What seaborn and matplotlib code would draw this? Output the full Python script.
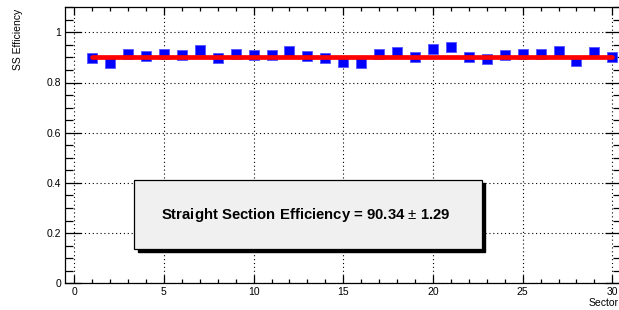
import matplotlib
matplotlib.use("Agg")
import matplotlib.pyplot as plt
import seaborn as sns
import pandas as pd
from matplotlib.ticker import MultipleLocator, FuncFormatter
from matplotlib.patches import Rectangle

# ---- data ----
sectors = list(range(1, 31))
efficiency = [0.896, 0.877, 0.915, 0.904, 0.915, 0.910, 0.930, 0.896, 0.915, 0.910,
              0.910, 0.924, 0.904, 0.896, 0.883, 0.877, 0.915, 0.920, 0.900, 0.935,
              0.940, 0.900, 0.895, 0.910, 0.915, 0.915, 0.924, 0.885, 0.920, 0.902]
fit_value = 0.9034
fit_range = [1, 30]
label_text = "Straight Section Efficiency = 90.34 $\\pm$ 1.29"
x_ticks = [0, 5, 10, 15, 20, 25, 30]
y_ticks = [0, 0.2, 0.4, 0.6, 0.8, 1.0]

sns.set_theme(style="ticks")
plt.rcParams["font.family"] = ["Liberation Sans", "DejaVu Sans"]
plt.rcParams["mathtext.fontset"] = "custom"
plt.rcParams["mathtext.rm"] = "Liberation Sans"
plt.rcParams["mathtext.bf"] = "Liberation Sans:bold"

fig = plt.figure(figsize=(6.19, 3.10), dpi=100)
W, H = 619, 310
left_px, right_px, top_px, bot_px = 65.3, 621.3, 7.2, 283.3
ax = fig.add_axes([left_px / W, 1 - bot_px / H, (right_px - left_px) / W, (bot_px - top_px) / H])

df = pd.DataFrame({"Sector": sectors, "Eff": efficiency})
sns.scatterplot(data=df, x="Sector", y="Eff", marker="s", s=52, color="#0000ff",
                edgecolor="#5555ff", linewidth=0.6, ax=ax, zorder=3, legend=False)
fit_df = pd.DataFrame({"x": fit_range, "y": [fit_value, fit_value]})
sns.lineplot(data=fit_df, x="x", y="y", color="#ff0000", linewidth=3.4, ax=ax, zorder=4)

ax.set_xlim(-0.5, 30.5)
ax.set_ylim(0, 1.1)
ax.set_xticks(x_ticks)
ax.set_yticks(y_ticks)
ax.xaxis.set_minor_locator(MultipleLocator(1))
ax.yaxis.set_minor_locator(MultipleLocator(0.05))
ax.yaxis.set_major_formatter(FuncFormatter(lambda v, p: "%g" % round(v, 2)))
ax.set_xlabel("")
ax.set_ylabel("")
ax.grid(True, which="major", color="black", linestyle=(0, (1, 2.5)), linewidth=0.8)
ax.set_axisbelow(True)

ax.tick_params(axis="both", which="both", direction="in", top=True, right=True,
               colors="black", labelsize=7.5, width=0.9)
ax.tick_params(axis="x", which="major", length=5.8, pad=3)
ax.tick_params(axis="x", which="minor", length=2.9)
ax.tick_params(axis="y", which="major", length=11.5, pad=3)
ax.tick_params(axis="y", which="minor", length=5.8)
for sp in ax.spines.values():
    sp.set_color("black")
    sp.set_linewidth(0.9)
    sp.set_visible(True)

# text box with shadow (data coordinates)
bx0, bx1, by0, by1 = 3.33, 22.72, 0.137, 0.412
sh_dx, sh_dy = 0.2, -0.011
ax.add_patch(Rectangle((bx0 + sh_dx, by0 + sh_dy), bx1 - bx0, by1 - by0,
                       facecolor="black", edgecolor="black", zorder=5))
ax.add_patch(Rectangle((bx0, by0), bx1 - bx0, by1 - by0,
                       facecolor="#f0f0f0", edgecolor="black", linewidth=0.9, zorder=6))
ax.text(12.91, 0.272, label_text, ha="center", va="center", fontsize=10.7,
        fontweight="bold", color="black", zorder=7)

fig.text(18 / W, 1 - 9 / H, "SS Efficiency", rotation=90, ha="center", va="top",
         fontsize=7.5, color="black")
fig.text(1.0, 1 - 303 / H, "Sector", ha="right", va="center", fontsize=7.5, color="black")

fig.savefig("out.png", dpi=100)
